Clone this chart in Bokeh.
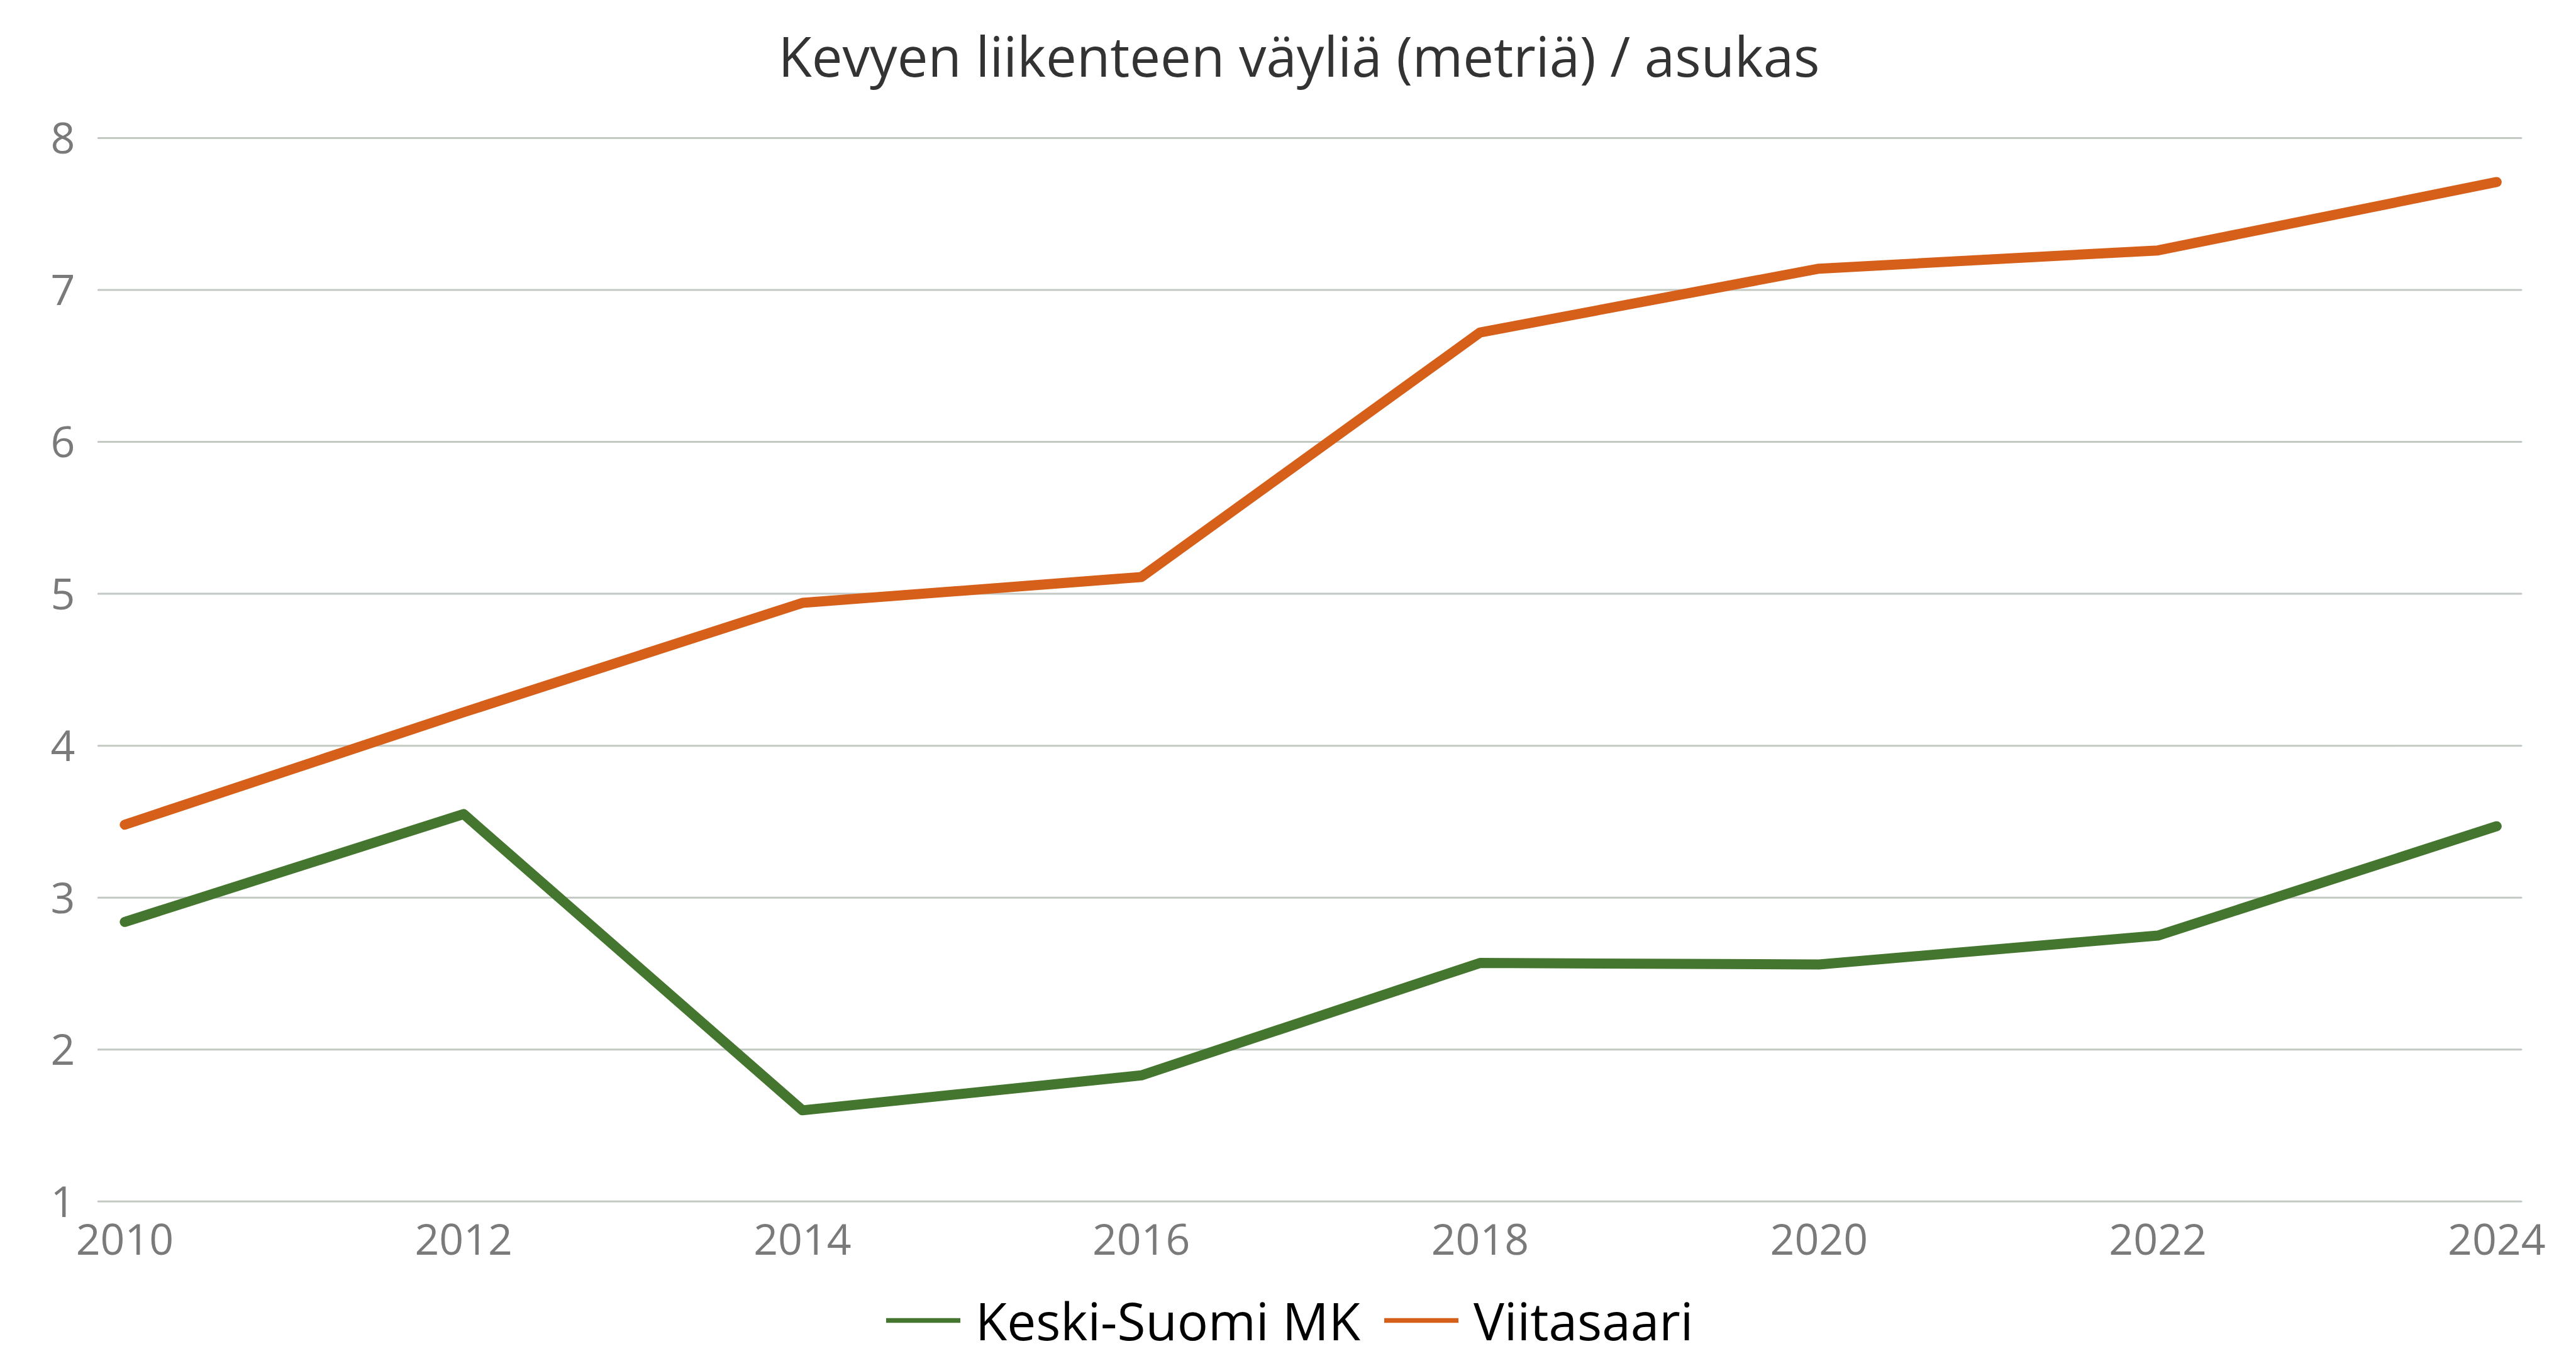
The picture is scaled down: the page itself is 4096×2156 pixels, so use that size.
from bokeh.plotting import figure
from bokeh.models import Range1d, Legend, LegendItem, Label
from bokeh.core.properties import value
from bokeh.embed import file_html
from bokeh.resources import INLINE

# ---- data ----
years = [2010, 2012, 2014, 2016, 2018, 2020, 2022, 2024]
keski_suomi_mk = [2.84, 3.55, 1.60, 1.83, 2.57, 2.56, 2.75, 3.47]
viitasaari = [3.48, 4.22, 4.94, 5.11, 6.72, 7.14, 7.26, 7.71]
x_ticks = [2010, 2012, 2014, 2016, 2018, 2020, 2022, 2024]
x_tick_labels = ["2010", "2012", "2014", "2016", "2018", "2020", "2022", "2024"]
y_ticks = [1, 2, 3, 4, 5, 6, 7, 8]
y_tick_labels = ["1", "2", "3", "4", "5", "6", "7", "8"]
series_names = ["Keski-Suomi MK", "Viitasaari"]
title_text = "Kevyen liikenteen väyliä (metriä) / asukas"

GREEN = "#44762F"
ORANGE = "#D65F1A"
GRID = "#C2C8C2"
TICK_TXT = "#7A7A7A"
FONT = "Open Sans"

W, H = 4096, 2156
# layout (pixels): 2010 at x=197.9, 2024 at x=3969.3 ; 8 at y=218.9, 1 at y=1909.8
PX_PER_YEAR = (3969.3 - 197.9) / 14
PX_PER_UNIT = (1909.8 - 218.9) / 7
X0 = 2010 - 197.9 / PX_PER_YEAR
X1 = X0 + W / PX_PER_YEAR
Y1 = 8 + 218.9 / PX_PER_UNIT
Y0 = Y1 - H / PX_PER_UNIT


def px_x(px):
    return X0 + px / PX_PER_YEAR


def px_y(py):
    return Y1 - py / PX_PER_UNIT


p = figure(width=W, height=H, output_backend="svg", toolbar_location=None,
           x_range=Range1d(X0, X1), y_range=Range1d(Y0, Y1),
           min_border=0, x_axis_type=None, y_axis_type=None)
p.outline_line_color = None
p.background_fill_color = "white"
p.border_fill_color = "white"
p.xgrid.visible = False
p.ygrid.visible = False

# horizontal gridlines at the y ticks, across the plot area
n = len(y_ticks)
p.segment(x0=[px_x(155.8)] * n, x1=[px_x(4008.5)] * n, y0=y_ticks, y1=y_ticks,
          line_color=GRID, line_width=3, line_cap="round")

# tick labels
p.text(x=[px_x(119)] * n, y=y_ticks, text=y_tick_labels,
       text_font=value(FONT), text_font_size="68px", text_color=TICK_TXT,
       text_align="right", text_baseline="middle")
p.text(x=x_ticks, y=[px_y(1969.5)] * len(x_ticks), text=x_tick_labels,
       text_font=value(FONT), text_font_size="68px", text_color=TICK_TXT,
       text_align="center", text_baseline="middle")

# thin proxies for the legend, hidden beneath the thick series lines
g1 = p.line(years, keski_suomi_mk, line_color=GREEN, line_width=7.7, line_cap="round")
g2 = p.line(years, viitasaari, line_color=ORANGE, line_width=7.7, line_cap="round")

p.line(years, keski_suomi_mk, line_color=GREEN, line_width=16,
       line_join="round", line_cap="round")
p.line(years, viitasaari, line_color=ORANGE, line_width=16,
       line_join="round", line_cap="round")

# title
p.add_layout(Label(x=px_x(2065), y=px_y(87.5), text=title_text, text_font=FONT,
                   text_font_size="87px", text_color="#333333",
                   text_align="center", text_baseline="middle"))

legend = Legend(items=[LegendItem(label=series_names[0], renderers=[g1]),
                       LegendItem(label=series_names[1], renderers=[g2])],
                orientation="horizontal", location=(1409, -13),
                label_text_font=FONT, label_text_font_size="82px",
                label_text_color="#000000",
                glyph_width=118, glyph_height=140, label_height=140,
                label_standoff=24, spacing=38, padding=0, margin=0,
                border_line_color=None, background_fill_alpha=0)
p.add_layout(legend, "center")

open("out.html", "w").write(file_html(p, INLINE))
